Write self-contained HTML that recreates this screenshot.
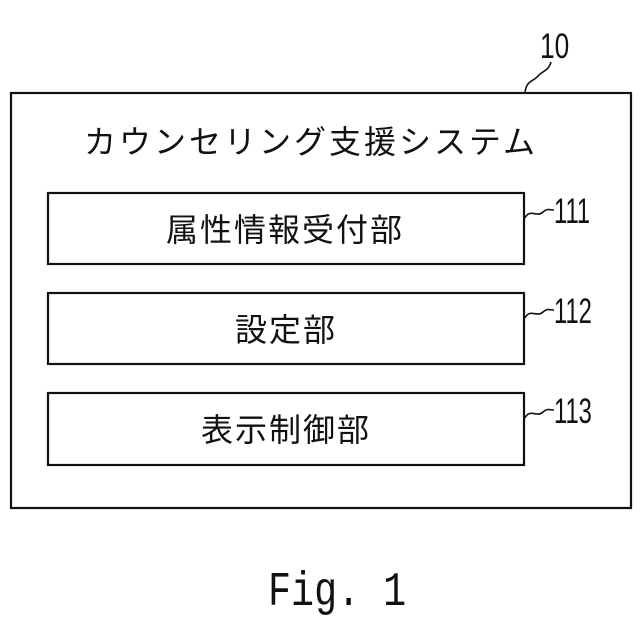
<!DOCTYPE html>
<html><head><meta charset="utf-8"><style>
html,body{margin:0;padding:0;background:#fff;}
svg{display:block}
text{font-family:"Liberation Sans","Noto Sans CJK JP",sans-serif;fill:#111}
</style></head><body>
<svg width="640" height="640" viewBox="0 0 640 640" xmlns="http://www.w3.org/2000/svg">
<g fill="none" stroke="#111" stroke-width="2.2">
<rect x="11" y="93" width="620" height="415"/>
<rect x="48" y="193" width="476" height="71"/>
<rect x="48" y="293" width="476" height="71"/>
<rect x="48" y="393" width="476" height="72"/>
<path d="M525 92 C527 80,533 82,538 76 C543 70,548 72,551 62" stroke-width="1.6"/>
<path d="M525 218 C530 208,537 218,543 212 C547 208,550 210,554 210" stroke-width="1.6"/>
<path d="M525 318 C530 308,537 318,543 312 C547 308,550 310,554 310" stroke-width="1.6"/>
<path d="M525 418 C530 408,537 418,543 412 C547 408,550 410,554 410" stroke-width="1.6"/>
</g>
<text x="311" y="153" font-size="32" text-anchor="middle" letter-spacing="3">カウンセリング支援システム</text>
<text x="285" y="241" font-size="32" text-anchor="middle" letter-spacing="2">属性情報受付部</text>
<text x="286" y="341" font-size="32" text-anchor="middle" letter-spacing="2">設定部</text>
<text x="286" y="441" font-size="32" text-anchor="middle" letter-spacing="2">表示制御部</text>
<g transform="translate(540,58) scale(0.75,1)"><text font-size="35">10</text></g>
<g transform="translate(554,223) scale(0.68,1)"><text font-size="35">111</text></g>
<g transform="translate(554,323) scale(0.68,1)"><text font-size="35">112</text></g>
<g transform="translate(554,423) scale(0.68,1)"><text font-size="35">113</text></g>
<g transform="translate(268,605) scale(0.8,1)"><text font-size="48" style="font-family:'Liberation Mono',monospace">Fig. 1</text></g>
</svg>
</body></html>
